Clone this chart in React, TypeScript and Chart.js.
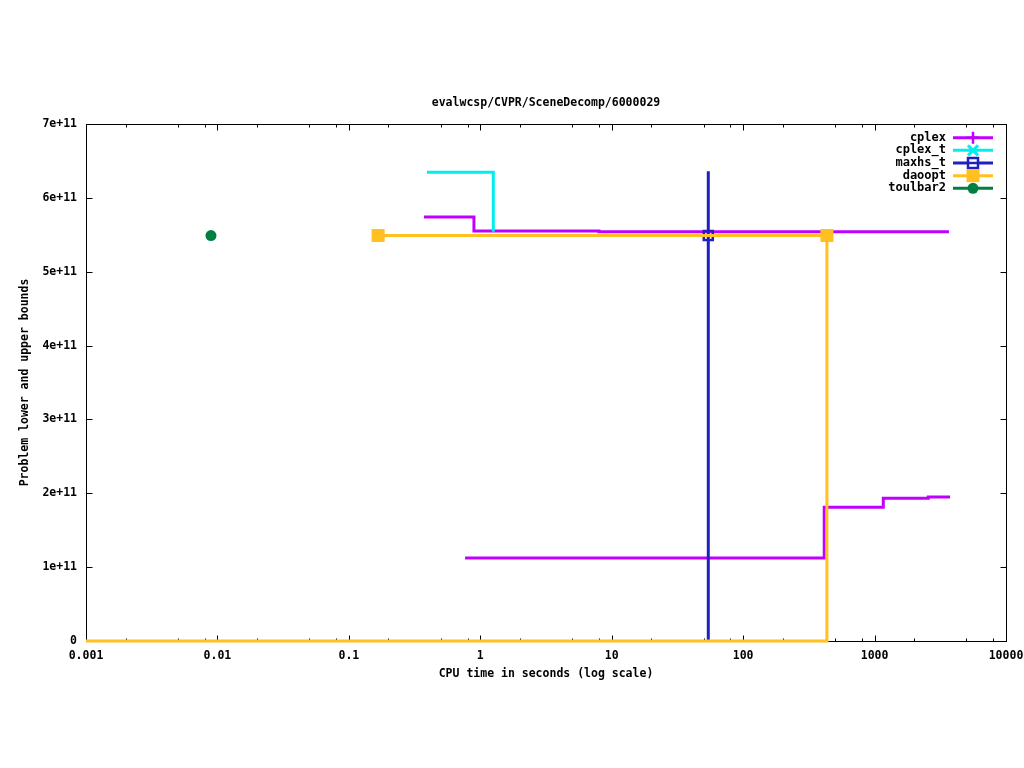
import React, { useEffect, useRef } from 'react';
import { Chart, registerables } from 'chart.js';

Chart.register(...registerables);

const TITLE = 'evalwcsp/CVPR/SceneDecomp/6000029';
const X_TITLE = 'CPU time in seconds (log scale)';
const Y_TITLE = 'Problem lower and upper bounds';

const X_MAJOR_TICKS = [0.001, 0.01, 0.1, 1, 10, 100, 1000, 10000];
const X_TICK_LABELS = ['0.001', '0.01', '0.1', '1', '10', '100', '1000', '10000'];
const X_MINOR_FACTORS = [2, 5, 8];
const Y_TICKS = [0, 1e11, 2e11, 3e11, 4e11, 5e11, 6e11, 7e11];
const Y_TICK_LABELS = ['0', '1e+11', '2e+11', '3e+11', '4e+11', '5e+11', '6e+11', '7e+11'];

const SERIES_NAMES = ['cplex', 'cplex_t', 'maxhs_t', 'daoopt', 'toulbar2'];
const SERIES_COLORS = ['#c000ff', '#00eeee', '#2020c0', '#ffc020', '#008040'];

// cplex
const cplexUpperX = [0.373, 0.895, 8.0, 3680];
const cplexUpperY = [5.74e11, 5.551e11, 5.54e11, 5.54e11];
const cplexLowerX = [0.766, 414, 1165, 2562, 3750];
const cplexLowerY = [1.124e11, 1.81e11, 1.932e11, 1.95e11, 1.95e11];
// cplex_t
const cplexTX = [0.393, 1.256];
const cplexTY = [6.346e11, 5.54e11];
// maxhs_t
const maxhsX = [54.3, 54.3, 54.3];
const maxhsY = [6.36e11, 5.49e11, 0];
// daoopt
const daooptUpperX = [0.167, 434];
const daooptUpperY = [5.49e11, 5.49e11];
const daooptLowerX = [0.001, 434];
const daooptLowerY = [0, 5.49e11];
// toulbar2
const toulbar2X = [0.00893];
const toulbar2Y = [5.49e11];

const FONT = 'DejaVu Sans Mono';

const pts = (xs: number[], ys: number[]) => xs.map((x, i) => ({ x, y: ys[i] }));

function drawMarker(ctx: CanvasRenderingContext2D, kind: string, x: number, y: number, color: string) {
  ctx.save();
  ctx.strokeStyle = color;
  ctx.fillStyle = color;
  ctx.lineWidth = 2;
  ctx.beginPath();
  if (kind === 'plus') {
    ctx.lineWidth = 2.5;
    ctx.moveTo(x - 6, y); ctx.lineTo(x + 6, y);
    ctx.moveTo(x, y - 6); ctx.lineTo(x, y + 6);
    ctx.stroke();
  } else if (kind === 'cross') {
    ctx.lineWidth = 3;
    ctx.moveTo(x - 5, y - 5); ctx.lineTo(x + 5, y + 5);
    ctx.moveTo(x + 5, y - 5); ctx.lineTo(x - 5, y + 5);
    ctx.stroke();
  } else if (kind === 'openSquare') {
    ctx.lineWidth = 2.5;
    ctx.fillStyle = '#ffffff';
    ctx.fillRect(x - 5, y - 5, 10, 10);
    ctx.strokeRect(x - 5, y - 5, 10, 10);
    ctx.beginPath();
    ctx.moveTo(x - 5, y); ctx.lineTo(x + 5, y);
    ctx.stroke();
  } else if (kind === 'square') {
    ctx.fillRect(x - 6.5, y - 6.5, 13, 13);
  } else if (kind === 'circle') {
    ctx.arc(x, y, 5.5, 0, Math.PI * 2);
    ctx.fill();
  }
  ctx.restore();
}

const frameTicksPlugin = {
  id: 'gpFrame',
  beforeDatasetsDraw(chart: any) {
    const { ctx, chartArea } = chart;
    const xs = chart.scales.x;
    const ys = chart.scales.y;
    const l = Math.round(chartArea.left) + 0.5;
    const r = Math.round(chartArea.right) + 0.5;
    const t = Math.round(chartArea.top) + 0.5;
    const b = Math.round(chartArea.bottom) + 0.5;
    ctx.save();
    ctx.strokeStyle = '#000';
    ctx.lineWidth = 1;
    ctx.strokeRect(l, t, r - l, b - t);
    ctx.beginPath();
    xs.ticks.forEach((tk: any) => {
      const major = X_MAJOR_TICKS.some((m) => Math.abs(m - tk.value) / m < 1e-6);
      const len = major ? 6 : 3;
      const px = Math.round(xs.getPixelForValue(tk.value)) + 0.5;
      ctx.moveTo(px, b); ctx.lineTo(px, b - len);
      ctx.moveTo(px, t); ctx.lineTo(px, t + len);
    });
    ys.ticks.forEach((tk: any) => {
      const py = Math.round(ys.getPixelForValue(tk.value)) + 0.5;
      ctx.moveTo(l, py); ctx.lineTo(l + 6, py);
      ctx.moveTo(r, py); ctx.lineTo(r - 6, py);
    });
    ctx.stroke();
    ctx.restore();
  },
};

const legendPlugin = {
  id: 'gpLegend',
  afterDraw(chart: any) {
    const { ctx, chartArea } = chart;
    const entries = chart.data.datasets.filter((d: any) => d.gpLegend);
    entries.sort((a: any, b: any) => a.gpLegendOrder - b.gpLegendOrder);
    const textRight = chartArea.right - 60;
    const lineL = chartArea.right - 53;
    const lineR = chartArea.right - 13;
    const y0 = chartArea.top + 13.7;
    ctx.save();
    ctx.font = `bold 12px "${FONT}"`;
    ctx.textAlign = 'right';
    ctx.textBaseline = 'middle';
    entries.forEach((d: any, i: number) => {
      const y = y0 + i * 12.65;
      ctx.fillStyle = '#000';
      ctx.fillText(d.label, textRight, y);
      ctx.strokeStyle = d.borderColor;
      ctx.lineWidth = 3;
      ctx.beginPath();
      ctx.moveTo(lineL, y);
      ctx.lineTo(lineR, y);
      ctx.stroke();
      drawMarker(ctx, d.gpMarker, (lineL + lineR) / 2, y, d.borderColor);
    });
    ctx.restore();
  },
};

export default function App() {
  const canvasRef = useRef<HTMLCanvasElement | null>(null);

  useEffect(() => {
    document.body.style.margin = '0';
    const canvas = canvasRef.current;
    if (!canvas) return;

    const allXTicks: number[] = [];
    X_MAJOR_TICKS.forEach((m, i) => {
      allXTicks.push(m);
      if (i < X_MAJOR_TICKS.length - 1) X_MINOR_FACTORS.forEach((f) => allXTicks.push(m * f));
    });

    const base = {
      fill: false,
      borderWidth: 3,
      stepped: 'before' as const,
      pointRadius: 0,
      pointHoverRadius: 0,
      clip: 4,
    };

    const datasets: any[] = [
      {
        ...base,
        label: SERIES_NAMES[4],
        data: pts(toulbar2X, toulbar2Y),
        borderColor: SERIES_COLORS[4],
        backgroundColor: SERIES_COLORS[4],
        pointRadius: 5.5,
        pointStyle: 'circle',
        pointBorderWidth: 0,
        gpLegend: true,
        gpLegendOrder: 4,
        gpMarker: 'circle',
      },
      {
        ...base,
        label: SERIES_NAMES[3],
        data: pts(daooptUpperX, daooptUpperY),
        borderColor: SERIES_COLORS[3],
        backgroundColor: SERIES_COLORS[3],
        pointRadius: 9.2,
        pointStyle: 'rect',
        pointBorderWidth: 0,
        gpLegend: true,
        gpLegendOrder: 3,
        gpMarker: 'square',
      },
      {
        ...base,
        label: SERIES_NAMES[3] + ' lower',
        data: pts(daooptLowerX, daooptLowerY),
        borderColor: SERIES_COLORS[3],
        backgroundColor: SERIES_COLORS[3],
      },
      {
        ...base,
        stepped: false,
        label: SERIES_NAMES[2],
        data: pts(maxhsX, maxhsY),
        borderColor: SERIES_COLORS[2],
        backgroundColor: 'rgba(255,255,255,0)',
        pointRadius: [0, 6.4, 0],
        pointStyle: 'rect',
        pointBorderWidth: 2.5,
        pointBorderColor: SERIES_COLORS[2],
        gpLegend: true,
        gpLegendOrder: 2,
        gpMarker: 'openSquare',
      },
      {
        ...base,
        label: SERIES_NAMES[1],
        data: pts(cplexTX, cplexTY),
        borderColor: SERIES_COLORS[1],
        backgroundColor: SERIES_COLORS[1],
        gpLegend: true,
        gpLegendOrder: 1,
        gpMarker: 'cross',
      },
      {
        ...base,
        label: SERIES_NAMES[0],
        data: pts(cplexUpperX, cplexUpperY),
        borderColor: SERIES_COLORS[0],
        backgroundColor: SERIES_COLORS[0],
        gpLegend: true,
        gpLegendOrder: 0,
        gpMarker: 'plus',
      },
      {
        ...base,
        label: SERIES_NAMES[0] + ' lower',
        data: pts(cplexLowerX, cplexLowerY),
        borderColor: SERIES_COLORS[0],
        backgroundColor: SERIES_COLORS[0],
      },
    ];

    const tickFont = { family: FONT, size: 11.5, weight: 'bold' as const };

    const chart = new Chart(canvas, {
      type: 'line',
      data: { datasets },
      options: {
        animation: false,
        responsive: false,
        events: [],
        layout: { padding: { left: 0, right: 18, top: 0, bottom: 0 } },
        plugins: {
          legend: { display: false },
          tooltip: { enabled: false },
          title: { display: false },
        },
        scales: {
          x: {
            type: 'logarithmic',
            min: 0.001,
            max: 10000,
            afterBuildTicks: (s: any) => {
              s.ticks = allXTicks.map((v) => ({ value: v }));
            },
            afterFit: (s: any) => {
              s.height = 127;
              s.paddingLeft = 0;
              s.paddingRight = 0;
            },
            grid: { display: false, drawTicks: false },
            border: { display: false },
            ticks: {
              autoSkip: false,
              maxRotation: 0,
              minRotation: 0,
              padding: 8,
              color: '#000',
              font: tickFont,
              callback: (v: any) => {
                const idx = X_MAJOR_TICKS.findIndex((m) => Math.abs(m - Number(v)) / m < 1e-6);
                return idx >= 0 ? X_TICK_LABELS[idx] : '';
              },
            },
            title: {
              display: true,
              text: X_TITLE,
              color: '#000',
              font: tickFont,
              padding: { top: 0, bottom: 87 },
            },
          },
          xTop: {
            type: 'linear',
            position: 'top',
            min: 0,
            max: 1,
            afterFit: (s: any) => {
              s.height = 124;
              s.paddingLeft = 0;
              s.paddingRight = 0;
            },
            grid: { display: false, drawTicks: false },
            border: { display: false },
            ticks: { display: false },
            title: {
              display: true,
              text: TITLE,
              color: '#000',
              font: tickFont,
              padding: { top: 96, bottom: 0 },
            },
          },
          y: {
            type: 'linear',
            min: 0,
            max: 7e11,
            afterBuildTicks: (s: any) => {
              s.ticks = Y_TICKS.map((v) => ({ value: v }));
            },
            afterFit: (s: any) => {
              s.width = 86;
              s.paddingTop = 0;
              s.paddingBottom = 0;
            },
            grid: { display: false, drawTicks: false },
            border: { display: false },
            ticks: {
              padding: 9,
              color: '#000',
              font: tickFont,
              callback: (v: any) => {
                const idx = Y_TICKS.findIndex((m) => Math.abs(m - Number(v)) < 1);
                return idx >= 0 ? Y_TICK_LABELS[idx] : '';
              },
            },
            title: {
              display: true,
              text: Y_TITLE,
              color: '#000',
              font: tickFont,
              padding: { top: 18, bottom: 0 },
            },
          },
        },
      },
      plugins: [frameTicksPlugin, legendPlugin],
    });

    return () => chart.destroy();
  }, []);

  return (
    <div style={{ width: 1024, height: 768, background: '#fff' }}>
      <canvas ref={canvasRef} width={1024} height={768} style={{ display: 'block' }} />
    </div>
  );
}
